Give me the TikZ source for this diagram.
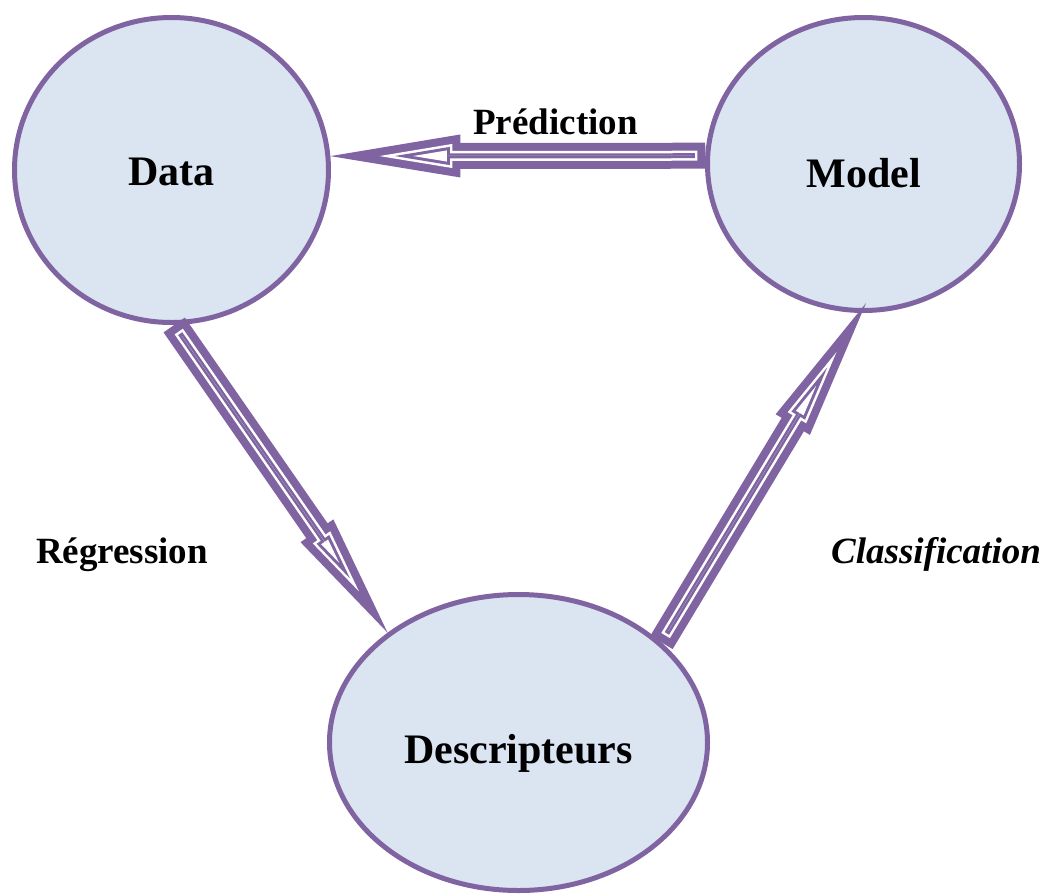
\documentclass[tikz,border=0pt]{standalone}
\usepackage{fontspec}
\setmainfont{Liberation Serif}
\usetikzlibrary{calc,shapes.geometric}
\definecolor{frame}{HTML}{8064A2}
\definecolor{bubblefill}{HTML}{DBE4F1}
\tikzstyle{bubble} = [ellipse, draw=frame, fill=bubblefill, line width=5pt, inner sep=0pt, text depth=0pt, font=\fontsize{42}{50}\selectfont\bfseries]
\tikzstyle{tag} = [anchor=base, inner sep=0pt, font=\fontsize{37}{44}\selectfont\bfseries]
\def\shafthw{13}
% hollow block arrow: tail, tip, head half width, head length
\newcommand\blockarrow[4]{%
  \foreach \ins/\col in {0/frame, 8/white, 10.5/frame, 13.5/white}{%
    \pgfmathsetmacro\headang{atan(#3/#4)}%
    \pgfmathsetmacro\tipr{\ins/sin(\headang)}%
    \pgfmathsetmacro\hdx{#4-\ins}%
    \pgfmathsetmacro\hdy{#3*(#4-\ins)/#4-\ins/cos(\headang)}%
    \pgfmathsetmacro\shy{max(\shafthw-\ins,0)}%
    \pgfmathsetmacro\cornr{veclen(\hdx,\hdy)}%
    \pgfmathsetmacro\corna{atan2(\hdy,\hdx)}%
    \pgfmathsetmacro\baser{veclen(\hdx,\shy)}%
    \pgfmathsetmacro\basea{atan2(\shy,\hdx)}%
    \pgfmathsetmacro\tailr{veclen(\ins,\shy)}%
    \pgfmathsetmacro\taila{atan2(\shy,\ins)}%
    \fill[\col] ($(#2)!\tipr pt!(#1)$)
      -- ($(#2)!\cornr pt!\corna:(#1)$) -- ($(#2)!\baser pt!\basea:(#1)$)
      -- ($(#1)!\tailr pt!-\taila:(#2)$) -- ($(#1)!\tailr pt!\taila:(#2)$)
      -- ($(#2)!\baser pt!-\basea:(#1)$) -- ($(#2)!\cornr pt!-\corna:(#1)$) -- cycle;
  }%
}
\begin{document}
\begin{tikzpicture}[x=1pt, y=-1pt]
	\useasboundingbox (0,0) rectangle (1044,895);
	\node[bubble, minimum width=314pt, minimum height=305pt, text height=31.8pt] (data) at (171.5,170) {Data};
	\node[bubble, minimum width=312pt, minimum height=293pt, text height=47.8pt] (model) at (863.5,164) {Model};
	\node[bubble, minimum width=378pt, minimum height=296pt, text height=42.8pt] (desc) at (518.5,742.5) {Descripteurs};
	\coordinate (model tip) at ([yshift=10pt]model.-89);
	\blockarrow{model.177}{data.5}{21.5}{130}
	\blockarrow{data.-89}{desc.140}{20}{124}
	\blockarrow{desc.35}{model tip}{20}{142}
	\node[tag] (pred) at (555.5,134) {Prédiction};
	\node[tag] (regr) at (122,563) {Régression};
	\node[tag, font=\fontsize{37}{44}\selectfont\bfseries\itshape] (class) at (936,563) {Classification};
\end{tikzpicture}
\end{document}
